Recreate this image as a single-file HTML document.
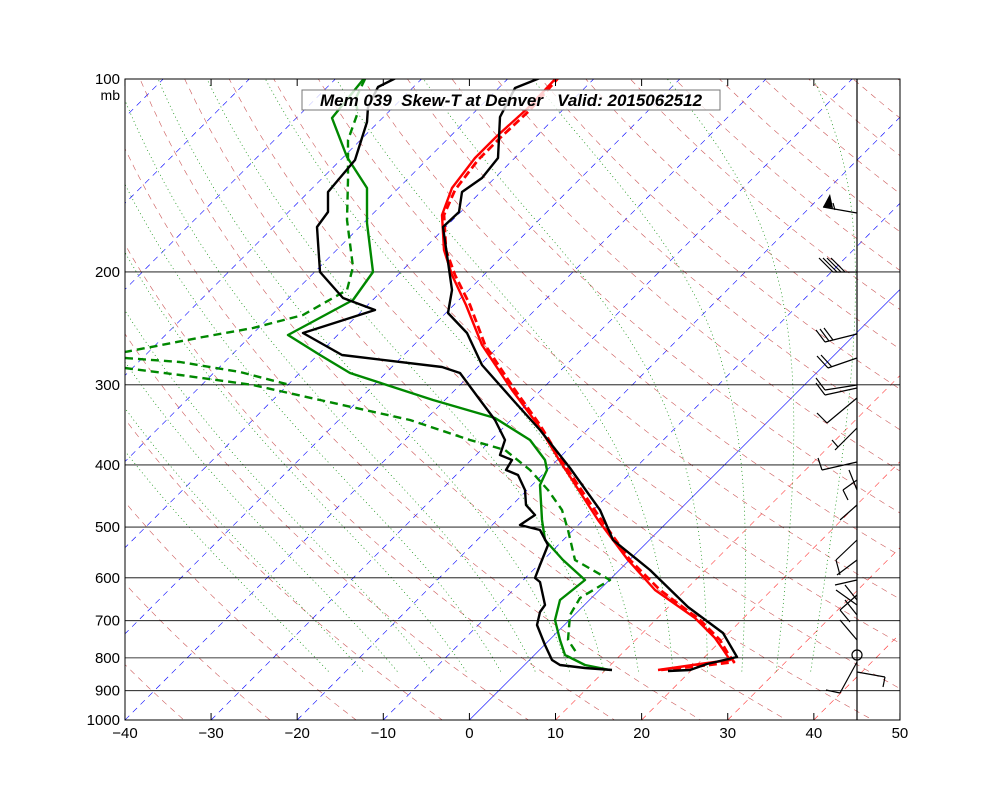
<!DOCTYPE html>
<html><head><meta charset="utf-8"><style>
body{margin:0;background:#fff;}
svg text{font-family:"Liberation Sans",sans-serif;}
</style></head><body>
<svg id="s" width="1000" height="800" xmlns="http://www.w3.org/2000/svg">
<defs><clipPath id="c"><rect x="125" y="79" width="775" height="641"/></clipPath></defs>
<g id="bg" clip-path="url(#c)"></g>
<g id="fg" clip-path="url(#c)"></g>
<g id="ax"></g>
</svg>
<script>
const NS="http://www.w3.org/2000/svg";
const X0=469.4,K=8.611,Y0=79,H=641;
function yp(p){return Y0+H*Math.log10(p/100);}
function xp(T,p){const y=yp(p);return X0+K*T+(720-y);}
function el(g,tag,a){const e=document.createElementNS(NS,tag);for(const k in a)e.setAttribute(k,a[k]);document.getElementById(g).appendChild(e);return e;}
function pl(g,pts,a){a.points=pts.map(p=>p[0].toFixed(1)+","+p[1].toFixed(1)).join(" ");a.fill="none";return el(g,"polyline",a);}
for(let T=-130;T<=50;T+=10){
 const a={stroke:T<=0?"#00f":"#f00","stroke-width":0.6};
 if(T!=0)a["stroke-dasharray"]="6,5";
 if(T>0)a.opacity=0.8;
 pl("bg",[[xp(T,1000),yp(1000)],[xp(T,100),yp(100)]],a);
}
for(let th=200;th<=500;th+=10){
 const pts=[];for(let p=1050;p>=95;p-=10){pts.push([xp(th*Math.pow(p/1000,0.286)-273.15,p),yp(p)]);}
 pl("bg",pts,{stroke:"#b22","stroke-width":0.6,"stroke-dasharray":"6,5",opacity:0.75});
}
function es(Tc){return 6.112*Math.exp(17.67*Tc/(Tc+243.5));}
for(let T0=-22;T0<=36;T0+=4){
 let T=T0+273.15;const pts=[];
 for(let p=840;p>=100;p-=2){
  pts.push([xp(T-273.15,p),yp(p)]);
  const e=es(T-273.15),rs=0.622*e/(p-e);
  const d=(287*T+2.5e6*rs)/(p*(1004+2.5e6*2.5e6*rs*0.622/(287*T*T)));
  T-=d*2;
 }
 pl("bg",pts,{stroke:"#080","stroke-width":0.7,"stroke-dasharray":"1,3"});
}
for(let p=200;p<=900;p+=100){const y=yp(p);el("bg","line",{x1:125,x2:900,y1:y,y2:y,stroke:"#000","stroke-width":0.8});}
const S=(g,pts,c,w,d)=>{const a={stroke:c,"stroke-width":w,"stroke-linejoin":"round"};if(d)a["stroke-dasharray"]=d;pl("fg",pts,a);};
S("fg",[[560,76],[530,110],[500,138],[478,160],[455,190],[444,215],[446,250],[455,275],[470,305],[485,345],[515,390],[540,425],[560,458],[600,518],[630,560],[660,590],[700,620],[720,640],[727,652],[734,662],[700,666],[660,670]],"#f00",2.8,"8,4");
S("fg",[[558,76],[528,108],[497,136],[475,158],[452,188],[442,215],[444,250],[452,275],[466,305],[482,345],[512,390],[538,425],[558,458],[598,520],[628,560],[655,590],[695,618],[715,638],[722,648],[730,660],[700,664],[658,670]],"#f00",2.4);
S("fg",[[545,76],[515,88],[500,117],[498,158],[482,178],[462,192],[459,212],[443,227],[452,290],[448,313],[467,333],[482,365],[513,400],[540,430],[570,468],[600,510],[613,540],[650,570],[688,607],[723,633],[737,657],[707,664],[690,670],[668,671]],"#000",2.4);
S("fg",[[366,76],[332,118],[347,157],[367,188],[367,223],[373,272],[353,300],[288,335],[320,355],[350,373],[433,400],[495,418],[530,440],[545,460],[547,470],[540,485],[542,520],[545,540],[563,560],[585,580],[560,600],[555,620],[560,640],[565,655],[585,665],[610,670]],"#080",2.4);
S("fg",[[365,79],[355,100],[358,112],[348,140],[348,180],[347,220],[353,267],[347,290],[303,315],[253,328],[203,337],[125,352]],"#080",2.4,"8,5");
S("fg",[[125,368],[180,375],[253,385],[320,400],[410,420],[470,440],[505,450],[530,470],[548,490],[562,510],[568,530],[575,560],[610,580],[580,598],[570,615],[568,640],[578,655]],"#080",2.4,"8,5");
S("fg",[[125,358],[180,362],[240,372],[290,385]],"#080",2.4,"8,5");
S("fg",[[400,76],[378,87],[368,107],[367,122],[355,160],[328,192],[328,212],[317,227],[320,272],[343,298],[375,310],[303,333],[342,355],[442,367],[460,373],[480,400],[495,420],[505,440],[500,455],[512,460],[506,470],[518,475],[525,490],[526,505],[535,515],[520,525],[540,530],[548,545],[540,565],[535,578],[540,582],[545,605],[540,612],[537,625],[545,645],[552,660],[560,665],[585,668],[612,670]],"#000",2.4);
const B=[[857,213,823,207],[835,210,833,203],[857,272,833,272],[833,272,819,258],[837,272,823,258],[841,272,827,258],[845,272,831,258],[857,334,825,342],[825,342,816,330],[829,341,820,329],[833,340,824,328],[857,358,828,368],[828,368,817,356],[832,367,821,355],[857,385,825,390],[825,390,816,378],[857,388,825,395],[825,395,816,383],[857,398,827,423],[827,423,817,413],[857,428,835,450],[838,447,832,440],[857,462,822,470],[822,470,818,458],
[857,480,843,490],[843,490,848,500],[857,505,840,520],[857,540,836,560],[836,560,840,575],[857,560,837,575],[857,580,835,585],[857,595,840,610],[840,610,850,622],[857,605,836,590],[857,615,845,600],[857,640,840,620],[857,600,845,585],[857,490,849,470],
[857,662,840,693],[840,693,826,690],[857,672,885,677],[885,677,883,687]];
B.forEach(b=>el("ax","line",{x1:b[0],y1:b[1],x2:b[2],y2:b[3],stroke:"#000","stroke-width":1.2}));
el("ax","polygon",{points:"823,207 830,194 833,208",fill:"#000"});
el("ax","line",{x1:857,x2:857,y1:79,y2:720,stroke:"#000","stroke-width":1.2});
el("ax","circle",{cx:857,cy:655,r:5,fill:"none",stroke:"#000","stroke-width":1.2});
el("ax","rect",{x:125,y:79,width:775,height:641,fill:"none",stroke:"#000","stroke-width":1});
for(let T=-40;T<=50;T+=10){const x=X0+K*T;
 el("ax","line",{x1:x,x2:x,y1:720,y2:713,stroke:"#000"});el("ax","line",{x1:x,x2:x,y1:79,y2:86,stroke:"#000"});
 const t=el("ax","text",{x:x,y:738,"text-anchor":"middle","font-size":15});t.textContent=(T<0?"\u2212"+(-T):T);}
[100,200,300,400,500,600,700,800,900,1000].forEach(p=>{const t=el("ax","text",{x:120,y:yp(p)+5,"text-anchor":"end","font-size":15});t.textContent=p;});
const m=el("ax","text",{x:120,y:100,"text-anchor":"end","font-size":14});m.textContent="mb";
el("ax","rect",{x:302,y:90,width:418,height:20,fill:"#fff","fill-opacity":0.8,stroke:"#777","stroke-width":1});
const tt=el("ax","text",{x:511,y:106,"text-anchor":"middle","font-size":17,"font-weight":"bold","font-style":"italic"});tt.textContent="Mem 039  Skew-T at Denver   Valid: 2015062512";tt.setAttribute("style","white-space:pre");
</script>
</body></html>
